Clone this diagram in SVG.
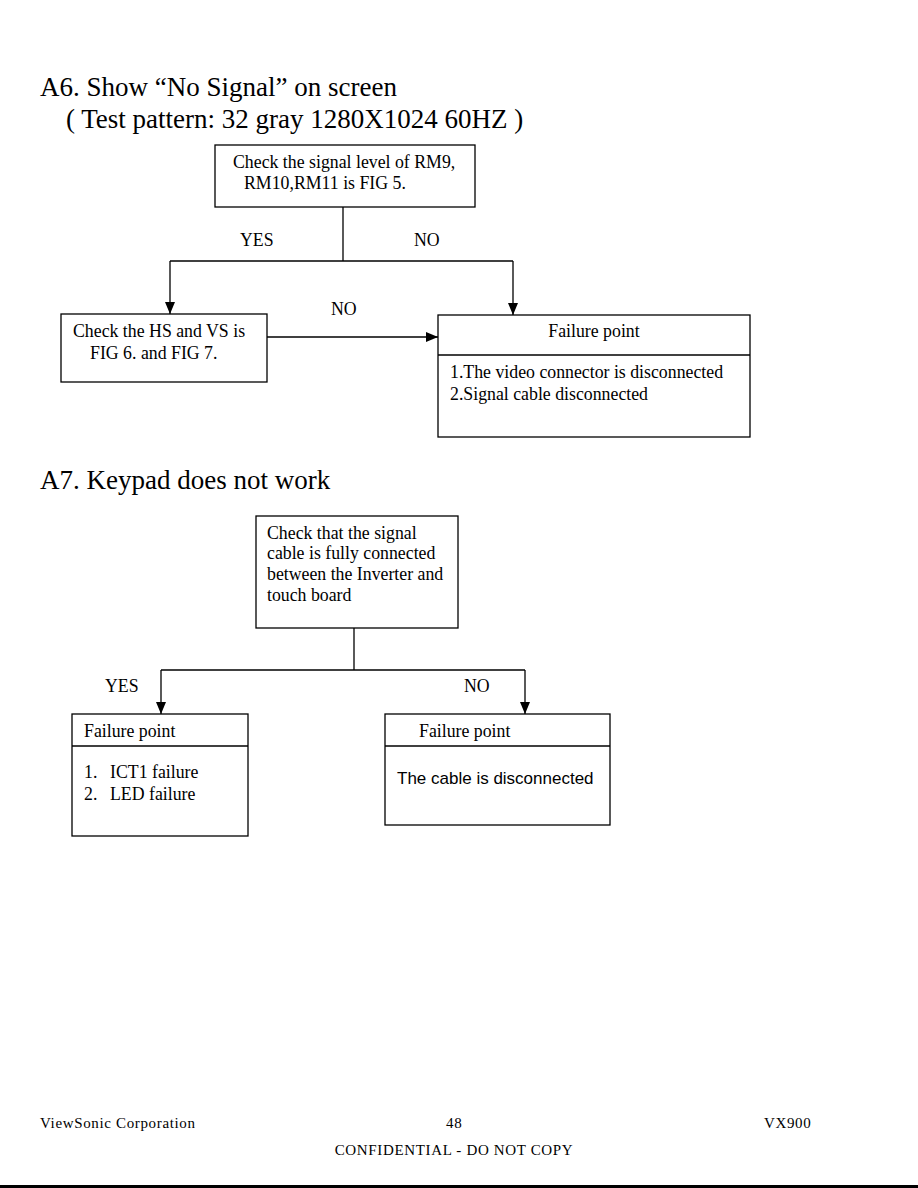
<svg xmlns="http://www.w3.org/2000/svg" width="918" height="1188" viewBox="0 0 918 1188">
<style>
.t{font-family:"Liberation Serif","Times New Roman",serif;fill:#000}
.h{font-size:27px}
.b{font-size:17.8px}
.f{font-size:15px;letter-spacing:0.65px}
.s{font-family:"Liberation Sans",Arial,sans-serif;font-size:17px;fill:#000}
.box{fill:#fff;stroke:#000;stroke-width:1.3}
.ln{fill:none;stroke:#000;stroke-width:1.3}
</style>
<defs>
<marker id="ah" viewBox="0 0 12 10" refX="12" refY="5" markerWidth="12" markerHeight="10" markerUnits="userSpaceOnUse" orient="auto">
<path d="M0,0 L12,5 L0,10 Z" fill="#000"/>
</marker>
</defs>
<rect width="918" height="1188" fill="#fff"/>
<g id="titles">
<text class="t h" x="40" y="96">A6. Show “No Signal” on screen</text>
<text class="t h" x="66" y="128">( Test pattern: 32 gray 1280X1024 60HZ )</text>
<text class="t h" x="40" y="489">A7. Keypad does not work</text>
</g>
<g id="connectors">
<polyline class="ln" points="343,207 343,261"/>
<polyline class="ln" points="170,261 513,261"/>
<polyline class="ln" points="170,261 170,314" marker-end="url(#ah)"/>
<polyline class="ln" points="513,261 513,315" marker-end="url(#ah)"/>
<polyline class="ln" points="267,337 438,337" marker-end="url(#ah)"/>
<polyline class="ln" points="354,628 354,670"/>
<polyline class="ln" points="161,670 525,670"/>
<polyline class="ln" points="161,670 161,714" marker-end="url(#ah)"/>
<polyline class="ln" points="525,670 525,714" marker-end="url(#ah)"/>
<text class="t b" x="240" y="246">YES</text>
<text class="t b" x="414" y="246">NO</text>
<text class="t b" x="331" y="315">NO</text>
<text class="t b" x="105" y="692">YES</text>
<text class="t b" x="464" y="692">NO</text>
</g>
<g id="n1">
<rect class="box" x="215" y="145" width="260" height="62"/>
<text class="t b" x="233" y="168">Check the signal level of RM9,</text>
<text class="t b" x="244" y="189">RM10,RM11 is FIG 5.</text>
</g>
<g id="n2">
<rect class="box" x="61" y="314" width="206" height="68"/>
<text class="t b" x="73" y="337">Check the HS and VS is</text>
<text class="t b" x="90" y="359">FIG 6. and FIG 7.</text>
</g>
<g id="n3">
<rect class="box" x="438" y="315" width="312" height="122"/>
<line class="ln" x1="438" y1="355" x2="750" y2="355"/>
<text class="t b" x="594" y="337" text-anchor="middle">Failure point</text>
<text class="t b" x="450" y="378">1.The video connector is disconnected</text>
<text class="t b" x="450" y="400">2.Signal cable disconnected</text>
</g>
<g id="n4">
<rect class="box" x="256" y="516" width="202" height="112"/>
<text class="t b" x="267" y="539">Check that the signal</text>
<text class="t b" x="267" y="559">cable is fully connected</text>
<text class="t b" x="267" y="580">between the Inverter and</text>
<text class="t b" x="267" y="601">touch board</text>
</g>
<g id="n5">
<rect class="box" x="72" y="714" width="176" height="122"/>
<line class="ln" x1="72" y1="746" x2="248" y2="746"/>
<text class="t b" x="84" y="737">Failure point</text>
<text class="t b" x="84" y="778">1.</text>
<text class="t b" x="110" y="778">ICT1 failure</text>
<text class="t b" x="84" y="800">2.</text>
<text class="t b" x="110" y="800">LED failure</text>
</g>
<g id="n6">
<rect class="box" x="385" y="714" width="225" height="111"/>
<line class="ln" x1="385" y1="746" x2="610" y2="746"/>
<text class="t b" x="419" y="737">Failure point</text>
<text class="s" x="397" y="784">The cable is disconnected</text>
</g>
<g id="footer">
<text class="t f" x="40" y="1128">ViewSonic Corporation</text>
<text class="t f" x="446" y="1128">48</text>
<text class="t f" x="764" y="1128">VX900</text>
<text class="t f" x="454" y="1155" text-anchor="middle">CONFIDENTIAL - DO NOT COPY</text>
<rect x="0" y="1185" width="918" height="3" fill="#000"/>
</g>
</svg>
